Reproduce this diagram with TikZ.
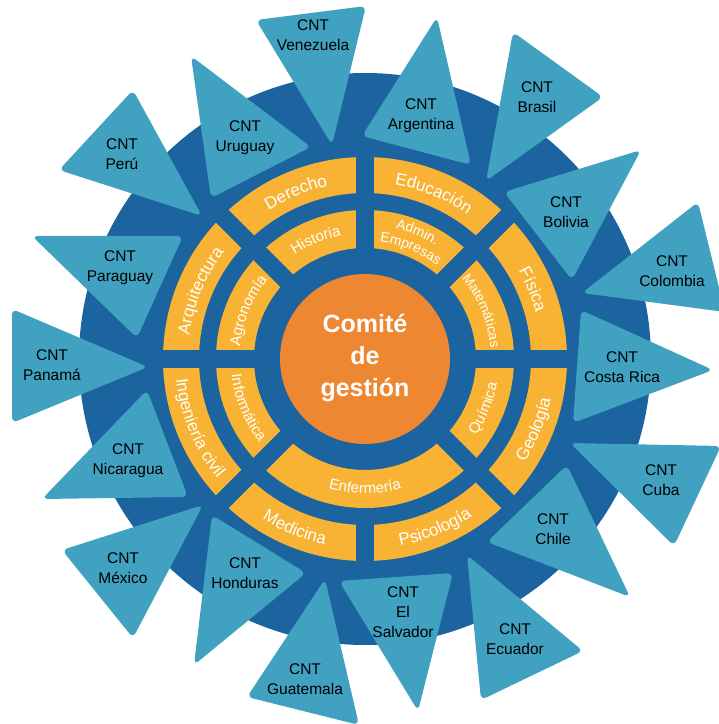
\documentclass[tikz,border=0pt]{standalone}
\usepackage{fontspec}
\setmainfont{Liberation Sans}
\usetikzlibrary{decorations.text}
\definecolor{discblue}{HTML}{1B64A0}
\definecolor{ringgold}{HTML}{F8B334}
\definecolor{coreorange}{HTML}{EE8731}
\definecolor{cntblue}{HTML}{40A1C1}
% radius, start angle, end angle, font size, text
\newcommand{\arclabel}[5]{%
  \path[decorate, decoration={text along path, text align=center,
    text={|\color{white}\fontsize{#4}{#4}\selectfont|#5}}]
    (#2:#1) arc[start angle=#2, end angle=#3, radius=#1];}
\begin{document}
\begin{tikzpicture}[x=1pt,y=1pt,
  cnt/.style={fill=cntblue, rounded corners=6pt},
  cntlabel/.style={text=black, align=center, inner sep=0pt,
    font=\fontsize{15.5}{20}\selectfont},
  gap/.style={fill=discblue}]
\useasboundingbox (0,0) rectangle (719,724);
\clip (0,0) rectangle (719,724);
\begin{scope}[shift={(365,365)}]
  \fill[discblue] (0,0) circle (286);
  \fill[ringgold, even odd rule] (0,0) circle (202) (0,0) circle (166);
  \fill[ringgold, even odd rule] (0,0) circle (149) (0,0) circle (111);
  \fill[gap] (-212,-9) rectangle (212,9);
  \fill[gap] (-9,0) rectangle (9,212);
  \fill[gap] (-9,-212) rectangle (9,-157.5);
  \fill[gap, rotate=45] (-212,-9) rectangle (212,9);
  \fill[gap, rotate=-45] (-212,-9) rectangle (212,9);
  \fill[coreorange] (0,0) circle (85);
  \node[font=\bfseries\fontsize{25}{32}\selectfont, text=white, align=center] (core) at (0,1) {Comité\\de\\gestión};
  % outer ring
  \arclabel{177}{135}{90}{17}{Derecho}
  \arclabel{177}{90}{45}{17}{Educación}
  \arclabel{177}{45}{0}{17}{Física}
  \arclabel{177}{180}{135}{17}{Arquitectura}
  \arclabel{190}{-45}{0}{17}{Geología}
  \arclabel{190}{-90}{-45}{17}{Psicología}
  \arclabel{190}{-135}{-90}{17}{Medicina}
  \arclabel{190}{180}{225}{17}{Ingeniería civil}
  % inner ring
  \arclabel{125.5}{135}{90}{15}{Historia}
  \arclabel{125.5}{180}{135}{15}{Agronomía}
  \arclabel{126}{45}{0}{13.5}{Matemáticas}
  \arclabel{134}{90}{45}{14}{Admin.}
  \arclabel{118}{90}{45}{14}{Empresas}
  \arclabel{134.5}{-45}{0}{15}{Química}
  \arclabel{134.5}{-135}{-45}{15}{Enfermería}
  \arclabel{134.5}{180}{225}{15}{Informática}
\end{scope}
% country triangles
\fill[cnt] (256,704) -- (366,718) -- (332,579) -- cycle;
\fill[cnt] (191,668) -- (311,577) -- (211,526) -- cycle;
\fill[cnt] (133,634) -- (202,508) -- (59,554) -- cycle;
\fill[cnt] (32,488) -- (183,488) -- (137,386) -- cycle;
\fill[cnt] (12,415) -- (148,357) -- (12,301) -- cycle;
\fill[cnt] (147,334) -- (188,227) -- (42,225) -- cycle;
\fill[cnt] (203,219) -- (62,174) -- (133,86) -- cycle;
\fill[cnt] (212,209) -- (306,151) -- (194,59) -- cycle;
\fill[cnt] (325,145) -- (247,27) -- (359,-1) -- cycle;
\fill[cnt] (339,143) -- (453,151) -- (418,13) -- cycle;
\fill[cnt] (467,169) -- (583,73) -- (481,24) -- cycle;
\fill[cnt] (567,259) -- (630,127) -- (487,182) -- cycle;
\fill[cnt] (570,281) -- (721,278) -- (674,178) -- cycle;
\fill[cnt] (581,414) -- (713,354) -- (573,301) -- cycle;
\fill[cnt] (698,522) -- (725,412) -- (582,431) -- cycle;
\fill[cnt] (641,574) -- (504,532) -- (572,444) -- cycle;
\fill[cnt] (513,692) -- (603,627) -- (486,543) -- cycle;
\fill[cnt] (437,707) -- (471,559) -- (362,588) -- cycle;
\node[cntlabel] (venezuela) at (313,689) {CNT\\Venezuela};
\node[cntlabel] (uruguay) at (245,586) {CNT\\Uruguay};
\node[cntlabel] (peru) at (122,570) {CNT\\Perú};
\node[cntlabel] (paraguay) at (120,456) {CNT\\Paraguay};
\node[cntlabel] (panama) at (52,359) {CNT\\Panamá};
\node[cntlabel] (nicaragua) at (128,263) {CNT\\Nicaragua};
\node[cntlabel] (mexico) at (123,156) {CNT\\México};
\node[cntlabel] (honduras) at (245,151) {CNT\\Honduras};
\node[cntlabel] (guatemala) at (305,45) {CNT\\Guatemala};
\node[cntlabel] (elsalvador) at (403,112) {CNT\\El\\Salvador};
\node[cntlabel] (ecuador) at (515,85) {CNT\\Ecuador};
\node[cntlabel] (chile) at (553,195) {CNT\\Chile};
\node[cntlabel] (cuba) at (661,244) {CNT\\Cuba};
\node[cntlabel] (costarica) at (622,357) {CNT\\Costa Rica};
\node[cntlabel] (colombia) at (672,453) {CNT\\Colombia};
\node[cntlabel] (bolivia) at (566,512) {CNT\\Bolivia};
\node[cntlabel] (brasil) at (537,627) {CNT\\Brasil};
\node[cntlabel] (argentina) at (421,608) {CNT\\Argentina};
\end{tikzpicture}
\end{document}
